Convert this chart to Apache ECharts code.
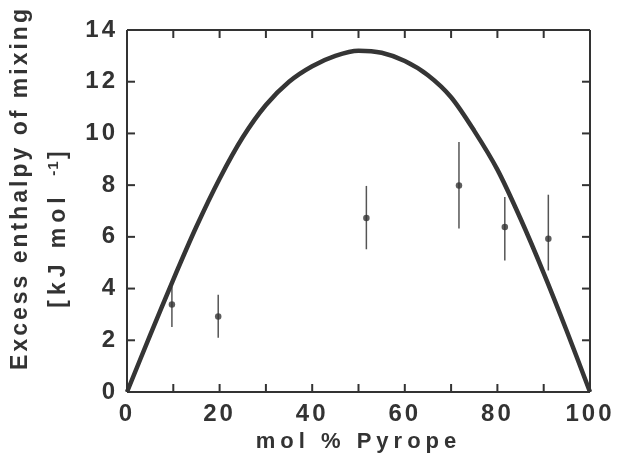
<!DOCTYPE html>
<html><head><meta charset="utf-8">
<script src="https://cdn.jsdelivr.net/npm/echarts@6/dist/echarts.min.js"></script>
<style>html,body{margin:0;padding:0;background:#fff}#c{width:620px;height:462px}</style>
</head><body><div id="c"></div>
<script>
// Curve (mixing model)
const curveX = [0, 5, 10, 15, 20, 25, 30, 35, 40, 45, 50, 55, 60, 65, 70, 75, 80, 85, 90, 95, 100];
const curveY = [0, 2.2, 4.35, 6.4, 8.25, 9.85, 11.1, 12.0, 12.6, 13.0, 13.2, 13.12, 12.8, 12.25, 11.4, 10.1, 8.6, 6.7, 4.6, 2.35, 0];
// Measured points with error bars
const pointX = [9.7, 19.7, 51.7, 71.7, 81.6, 91.0];
const pointY = [3.38, 2.92, 6.73, 7.99, 6.38, 5.93];
const errLow = [2.51, 2.10, 5.52, 6.32, 5.09, 4.70];
const errHigh = [4.08, 3.76, 7.97, 9.67, 7.54, 7.63];
const xLabels = [0, 20, 40, 60, 80, 100];
const yLabels = [0, 2, 4, 6, 8, 10, 12, 14];
const xTickVals = [10, 20, 30, 40, 50, 60, 70, 80, 90];
const yTickVals = [2, 4, 6, 8, 10, 12];
const xTitle = 'mol % Pyrope';
const yTitle1 = 'Excess enthalpy of mixing';
const yTitle2Base = '[kJ mol';
const yTitle2Sup = '-1';
const yTitle2End = ']';

const INK = '#333';
const FONT = 'Liberation Sans';
const LS_DIGIT = 3, LS_X = 5, LS_Y1 = 3, LS_Y2 = 5, LS_SUP = 1;
const X_MIN = 0, X_MAX = 100, Y_MIN = 0, Y_MAX = 14;

// letter spacing for the bold, widely spaced lettering of the original figure
const SPACING = {};
xLabels.concat(yLabels).forEach(v => { SPACING[String(v)] = LS_DIGIT; });
SPACING[xTitle] = LS_X;
SPACING[yTitle1] = LS_Y1;
SPACING[yTitle2Base] = LS_Y2;
SPACING[yTitle2Sup] = LS_SUP;
(function () {
  const proto = CanvasRenderingContext2D.prototype;
  const orig = proto.fillText;
  proto.fillText = function (t, x, y, w) {
    const ls = SPACING[t];
    const call = () => (w === undefined ? orig.call(this, t, x, y) : orig.call(this, t, x, y, w));
    if (ls != null && 'letterSpacing' in this) {
      const prev = this.letterSpacing;
      this.letterSpacing = ls + 'px';
      const r = call();
      this.letterSpacing = prev;
      return r;
    }
    return call();
  };
})();

const chart = echarts.init(document.getElementById('c'), null, {renderer: 'canvas'});

const curveData = curveX.map((x, i) => [x, curveY[i]]);
const pointData = pointX.map((x, i) => [x, pointY[i]]);
const errData = pointX.map((x, i) => [x, errLow[i], errHigh[i]]);

const TICK = 8;
function renderFrame(params, api) {
  const p0 = api.coord([X_MIN, Y_MIN]);
  const p1 = api.coord([X_MAX, Y_MAX]);
  const left = p0[0], bottom = p0[1], right = p1[0], top = p1[1];
  const st = {stroke: INK, lineWidth: 2};
  const seg = (x1, y1, x2, y2) => ({type: 'line', shape: {x1: x1, y1: y1, x2: x2, y2: y2}, style: st});
  const children = [
    seg(left, top, right, top),
    seg(right, top, right, bottom),
    seg(left, bottom, right, bottom),
    seg(left, top, left, bottom)
  ];
  xTickVals.forEach(v => {
    const x = api.coord([v, Y_MIN])[0];
    children.push(seg(x, bottom, x, bottom - TICK));
    children.push(seg(x, top, x, top + TICK));
  });
  yTickVals.forEach(v => {
    const y = api.coord([X_MIN, v])[1];
    children.push(seg(left, y, left + TICK, y));
    children.push(seg(right, y, right - TICK, y));
  });
  return {type: 'group', children: children};
}

chart.setOption({
  animation: false,
  grid: {left: 127, right: 30, top: 30, bottom: 70},
  xAxis: {
    type: 'value', min: X_MIN, max: X_MAX, interval: 10,
    axisLine: {show: false}, axisTick: {show: false}, splitLine: {show: false},
    name: xTitle, nameLocation: 'middle', nameGap: 24,
    nameTextStyle: {fontFamily: FONT, fontWeight: 'bold', fontSize: 22, color: INK},
    axisLabel: {
      margin: 10, fontFamily: FONT, fontWeight: 'bold', fontSize: 24, color: INK,
      formatter: v => (xLabels.indexOf(v) >= 0 ? String(v) : '')
    }
  },
  yAxis: {
    type: 'value', min: Y_MIN, max: Y_MAX, interval: 2,
    axisLine: {show: false}, axisTick: {show: false}, splitLine: {show: false},
    axisLabel: {
      margin: 9, fontFamily: FONT, fontWeight: 'bold', fontSize: 24, color: INK,
      formatter: v => (yLabels.indexOf(v) >= 0 ? String(v) : '')
    }
  },
  graphic: [
    {type: 'text', x: 21, y: 188, rotation: Math.PI / 2,
     style: {text: yTitle1, font: 'bold 23px ' + FONT, fill: INK, align: 'center', verticalAlign: 'middle'}},
    {type: 'text', x: 59, y: 220, rotation: Math.PI / 2,
     style: {
       text: '{b|' + yTitle2Base + '}{s|' + yTitle2Sup + '}{e|' + yTitle2End + '}',
       fill: INK, align: 'center', verticalAlign: 'middle',
       rich: {
         b: {font: 'bold 23px ' + FONT, fill: INK, lineHeight: 30, padding: [0, LS_Y2 * yTitle2Base.length, 0, 0]},
         s: {font: 'bold 15px ' + FONT, fill: INK, lineHeight: 15, verticalAlign: 'top', padding: [2, LS_SUP * yTitle2Sup.length + 2, 0, 0]},
         e: {font: 'bold 23px ' + FONT, fill: INK, lineHeight: 30}
       }
     }}
  ],
  series: [
    {
      type: 'custom', data: [[X_MIN, Y_MIN]], clip: false, z: 5, silent: true,
      renderItem: renderFrame
    },
    {
      type: 'line', data: curveData, smooth: 0.3, showSymbol: false,
      lineStyle: {color: '#353535', width: 4.5}, z: 3
    },
    {
      type: 'custom', data: errData, z: 2,
      renderItem: (params, api) => {
        const lo = api.coord([api.value(0), api.value(1)]);
        const hi = api.coord([api.value(0), api.value(2)]);
        return {type: 'line', shape: {x1: lo[0], y1: lo[1], x2: hi[0], y2: hi[1]},
                style: {stroke: '#555', lineWidth: 1.5}};
      }
    },
    {
      type: 'scatter', data: pointData, symbol: 'circle', symbolSize: 6.5,
      itemStyle: {color: INK}, z: 4
    }
  ]
});
</script>
</body></html>
